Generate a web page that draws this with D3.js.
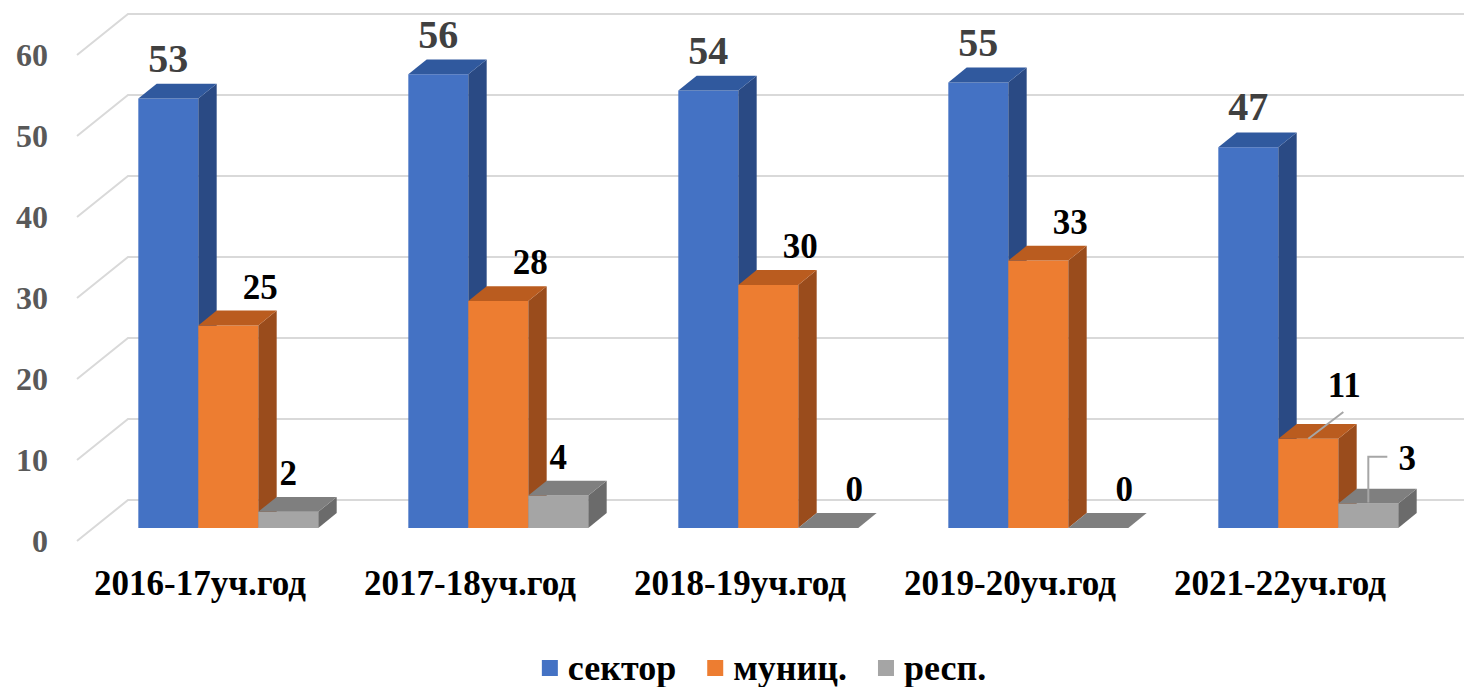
<!DOCTYPE html>
<html>
<head>
<meta charset="utf-8">
<script src="https://cdn.jsdelivr.net/npm/d3@7"></script>
<style>
  body { margin: 0; background: #fff; }
  svg { display: block; }
</style>
</head>
<body>
<svg id="chart"></svg>
<script>
// data
const categories = ["2016-17уч.год", "2017-18уч.год", "2018-19уч.год", "2019-20уч.год", "2021-22уч.год"];
const seriesNames = ["сектор", "муниц.", "респ."];
const sektorValues = [53, 56, 54, 55, 47];
const municValues = [25, 28, 30, 33, 11];
const respValues = [2, 4, 0, 0, 3];
const yTicks = [0, 10, 20, 30, 40, 50, 60];

const seriesValues = [sektorValues, municValues, respValues];

const width = 1464, height = 687;
const origin = { x: 77, y: 541 };   // front-left corner of the floor
const depth = { x: 51, y: 41 };     // oblique offset of the back wall
const barZ = [0.32, 0.68];          // bars sit in the middle of the depth

// pick the first serif face that is really installed
const ctx = document.createElement("canvas").getContext("2d");
const probe = "2016-17уч.год WMil";
function measure(fam) {
  ctx.font = `bold 40px ${fam}`;
  return ctx.measureText(probe).width;
}
const candidates = ["'Liberation Serif'", "'Times New Roman'", "Tinos", "'DejaVu Serif'", "'Noto Serif'", "FreeSerif", "'Nimbus Roman'"];
const found = candidates.find((f) => measure(`${f}, monospace`) !== measure("monospace"));
const serif = found ? `${found}, serif` : "serif";

// front, top, side shades for each series
const faces = [
  { front: "#4472C4", top: "#30599E", side: "#2A4A84" },
  { front: "#ED7D31", top: "#BA5C1F", side: "#9A4C1C" },
  { front: "#A5A5A5", top: "#7F7F7F", side: "#6B6B6B" },
];
const labelStyle = [
  { size: 40, color: "#404040", dx: 0, dxZero: 0 },
  { size: 35, color: "#000", dx: 32, dxZero: 26 },
  { size: 35, color: "#000", dx: 0, dxZero: 26 },
];
// labels that were dragged away from the bar, with a leader line
const movedLabels = [
  { s: 1, c: 4, dx: 36, dy: -27, leader: "slant" },
  { s: 2, c: 4, dx: 39, dy: -19, leader: "bracket" },
];

const svg = d3.select("#chart")
  .attr("width", width)
  .attr("height", height)
  .style("font-family", serif)
  .attr("font-weight", "bold");

const x0 = d3.scaleBand()
  .domain(categories)
  .range([0, 1350])
  .paddingInner(1 / 3)
  .paddingOuter(1 / 6);

const x1 = d3.scaleBand()
  .domain(seriesNames)
  .range([0, x0.bandwidth()]);

const y = d3.scaleLinear().domain([0, 60]).range([0, 486]);

function pt(x, v, z) {
  return [origin.x + x + z * depth.x, origin.y - y(v) - z * depth.y];
}

// gridlines: floor-to-wall diagonal + back wall line
const grid = svg.append("g").attr("stroke", "#D9D9D9").attr("stroke-width", 2).attr("fill", "none");
yTicks.forEach((t) => {
  const a = pt(0, t, 0), b = pt(0, t, 1), c = pt(x0.range()[1], t, 1);
  grid.append("path").attr("d", `M${a}L${b}L${c}`);
});

// y tick labels
svg.append("g")
  .selectAll("text")
  .data(yTicks)
  .enter()
  .append("text")
  .attr("x", 48)
  .attr("y", (d) => pt(0, d, 0)[1] + 11)
  .attr("text-anchor", "end")
  .attr("fill", "#595959")
  .attr("font-size", 32)
  .text((d) => d);

// category labels
svg.append("g")
  .selectAll("text")
  .data(categories)
  .enter()
  .append("text")
  .attr("x", (d) => origin.x + x0(d) + x0.bandwidth() / 2 - 12)
  .attr("y", 595)
  .attr("text-anchor", "middle")
  .attr("fill", "#000")
  .attr("font-size", 35)
  .text((d) => d);

// bars
const bars = svg.append("g");
const poly = (pts) => "M" + pts.map((p) => p.join(",")).join("L") + "Z";

categories.forEach((c, ci) => {
  seriesNames.forEach((s, si) => {
    const v = seriesValues[si][ci];
    const bx = x0(c) + x1(s);
    const w = x1.bandwidth();
    const [z0, z1] = barZ;
    const f = faces[si];
    if (v > 0) {
      bars.append("path")
        .attr("d", poly([pt(bx, 0, z0), pt(bx, v, z0), pt(bx + w, v, z0), pt(bx + w, 0, z0)]))
        .attr("fill", f.front);
      bars.append("path")
        .attr("d", poly([pt(bx + w, 0, z0), pt(bx + w, v, z0), pt(bx + w, v, z1), pt(bx + w, 0, z1)]))
        .attr("fill", f.side);
    }
    bars.append("path")
      .attr("d", poly([pt(bx, v, z0), pt(bx + w, v, z0), pt(bx + w, v, z1), pt(bx, v, z1)]))
      .attr("fill", f.top);
  });
});

// data labels
const labels = svg.append("g");
categories.forEach((c, ci) => {
  seriesNames.forEach((s, si) => {
    const v = seriesValues[si][ci];
    const st = labelStyle[si];
    const fx = origin.x + x0(c) + x1(s) + x1.bandwidth() / 2 + barZ[0] * depth.x;
    const fy = pt(0, v, barZ[0])[1];
    const backTop = pt(0, v, barZ[1])[1];
    let lx = fx + (v === 0 ? st.dxZero : st.dx);
    let ly = backTop - 12;
    const moved = movedLabels.find((m) => m.s === si && m.c === ci);
    if (moved) {
      lx = fx + moved.dx;
      ly = backTop + moved.dy;
      let d;
      if (moved.leader === "slant") {
        d = `M${fx},${fy}L${lx - 1},${ly + 15}`;
      } else {
        d = `M${fx},${fy - 1}L${fx},${ly - 13}L${lx - 20},${ly - 13}`;
      }
      labels.append("path")
        .attr("d", d)
        .attr("fill", "none")
        .attr("stroke", "#A6A6A6")
        .attr("stroke-width", 2);
    }
    labels.append("text")
      .attr("x", lx)
      .attr("y", ly)
      .attr("text-anchor", "middle")
      .attr("fill", st.color)
      .attr("font-size", st.size)
      .text(v);
  });
});

// legend
const legend = svg.append("g");
let lxPos = 0;
seriesNames.forEach((s, si) => {
  legend.append("rect")
    .attr("x", lxPos)
    .attr("y", 660)
    .attr("width", 16)
    .attr("height", 16)
    .attr("fill", faces[si].front);
  const t = legend.append("text")
    .attr("x", lxPos + 26)
    .attr("y", 680)
    .attr("fill", "#000")
    .attr("font-size", 36)
    .text(s);
  lxPos += 26 + t.node().getComputedTextLength() + 31;
});
const legendWidth = lxPos - 31;
legend.attr("transform", `translate(${764 - legendWidth / 2},0)`);
</script>
</body>
</html>
